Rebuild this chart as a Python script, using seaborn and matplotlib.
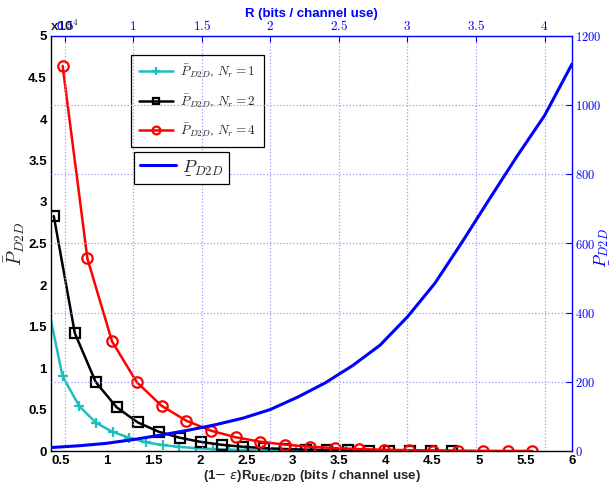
import matplotlib
matplotlib.use("Agg")
import matplotlib.pyplot as plt
import numpy as np
import seaborn as sns
from matplotlib.mathtext import MathTextParser
from matplotlib.ticker import FuncFormatter, MultipleLocator

sns.set_theme(style="white")
plt.rcParams['font.family'] = ['Liberation Sans', 'DejaVu Sans']
plt.rcParams['mathtext.fontset'] = 'cm'

# bottom axis: (1-eps) R_UEc/D2D, left axis: P_bar_D2D
x_nr1 = [0.345, 0.524, 0.704, 0.883, 1.062, 1.242, 1.421, 1.600, 1.780, 1.959,
         2.138, 2.318, 2.497, 2.676, 2.856, 3.035, 3.214, 3.394, 3.573, 3.752]
p_nr1 = [18700, 9000, 5400, 3400, 2300, 1600, 1050, 720, 500, 340,
         230, 160, 110, 70, 50, 30, 20, 13, 9, 6]

x_nr2 = [0.430, 0.656, 0.881, 1.107, 1.332, 1.558, 1.783, 2.009, 2.234, 2.460,
         2.685, 2.911, 3.136, 3.362, 3.587, 3.813, 4.038, 4.264, 4.489, 4.715]
p_nr2 = [28300, 14200, 8300, 5250, 3450, 2320, 1600, 1100, 750, 510,
         350, 240, 160, 110, 70, 50, 30, 20, 10, 7]

x_nr4 = [0.525, 0.791, 1.056, 1.322, 1.588, 1.854, 2.119, 2.385, 2.651, 2.916,
         3.182, 3.448, 3.713, 3.979, 4.245, 4.511, 4.776, 5.042, 5.308, 5.573]
p_nr4 = [46400, 23200, 13200, 8300, 5450, 3650, 2450, 1650, 1120, 770,
         520, 350, 230, 150, 100, 60, 40, 20, 10, 6]

# top axis: R, right axis: P_underline_D2D
r_vals = [0.4, 0.6, 0.8, 1.0, 1.2, 1.4, 1.6, 1.8, 2.0, 2.2,
          2.4, 2.6, 2.8, 3.0, 3.2, 3.4, 3.6, 3.8, 4.0, 4.2]
p_low = [10, 15, 22, 33, 46, 60, 76, 95, 120, 156,
         197, 247, 306, 388, 485, 605, 730, 853, 970, 1119]

BLUE = '#0000ff'
CYAN = '#1fbfbf'
GRID = '#9a9aff'


def pick_label(options):
    # mathtext has no \underline, try a few stand-ins
    parser = MathTextParser('path')
    for s in options:
        try:
            parser.parse(s)
            return s
        except Exception:
            pass
    return options[-1]


P_LOW = pick_label([r'$\underset{\_}{P}_{D2D}$', r'$\underset{-}{P}_{D2D}$', r'$P_{D2D}$'])

fig = plt.figure(figsize=(6.09, 4.86), dpi=100)
ax = fig.add_axes([51 / 609, 1 - 451 / 486, 521 / 609, 415 / 486])

sns.lineplot(x=x_nr1, y=p_nr1, ax=ax, color=CYAN, lw=1.8, marker='+',
             markersize=7, markeredgecolor=CYAN, markeredgewidth=1.6, sort=False,
             label=r'$\bar{P}_{D2D}$, $N_r = 1$')
sns.lineplot(x=x_nr2, y=p_nr2, ax=ax, color='black', lw=1.8, marker='s',
             markersize=6.5, markerfacecolor='none', markeredgecolor='black',
             markeredgewidth=1.6, sort=False,
             label=r'$\bar{P}_{D2D}$, $N_r = 2$')
sns.lineplot(x=x_nr4, y=p_nr4, ax=ax, color='red', lw=1.8, marker='o',
             markersize=7.5, markerfacecolor='none', markeredgecolor='red',
             markeredgewidth=1.6, sort=False,
             label=r'$\bar{P}_{D2D}$, $N_r = 4$')

ax.set_xlim(0.4, 6)
ax.set_ylim(0, 50000)
ax.xaxis.set_major_locator(MultipleLocator(0.5))
ax.yaxis.set_major_locator(MultipleLocator(5000))
ax.xaxis.set_major_formatter(FuncFormatter(lambda v, p: f"{v:g}"))
ax.yaxis.set_major_formatter(FuncFormatter(lambda v, p: f"{v / 1e4:g}"))
ax.tick_params(axis='both', direction='in', length=4, width=0.8, colors='black',
               labelsize=9.5, pad=3)
for lab in ax.get_xticklabels() + ax.get_yticklabels():
    lab.set_fontweight('bold')
ax.spines['top'].set_visible(False)
ax.spines['right'].set_visible(False)
for s in ['left', 'bottom']:
    ax.spines[s].set_color('black')
    ax.spines[s].set_linewidth(1.0)
ax.text(-0.002, 1.006, r'x10$^{4}$', transform=ax.transAxes, fontsize=9.5,
        fontweight='bold', ha='left', va='bottom')

xl = ax.set_xlabel(r'(1$-$ $\varepsilon$)R$_{\mathbf{UEc/D2D}}$ (bits / channel use)',
                   fontsize=9.5, fontweight='bold', labelpad=1)
xl.set_math_fontfamily('dejavusans')
ax.set_ylabel(r'$\bar{P}_{D2D}$', fontsize=14)
ax.yaxis.set_label_coords(-0.046, 0.5)

leg1 = ax.legend(loc='upper left', bbox_to_anchor=(0.1536, 0.954), borderaxespad=0,
                 fancybox=False, edgecolor='black', framealpha=1, fontsize=9.5,
                 handlelength=2.6, handletextpad=0.5, labelspacing=0.9,
                 borderpad=0.6, markerscale=0.75)
leg1.get_frame().set_linewidth(0.9)

# twin axes: top R, right P_underline
ax2 = fig.add_axes(ax.get_position(), frame_on=True)
ax2.patch.set_visible(False)
sns.lineplot(x=r_vals, y=p_low, ax=ax2, color=BLUE, lw=2.2, sort=False,
             label=P_LOW)
ax2.set_xlim(0.4, 4.2)
ax2.set_ylim(0, 1200)
ax2.xaxis.set_major_locator(MultipleLocator(0.5))
ax2.yaxis.set_major_locator(MultipleLocator(200))
ax2.xaxis.tick_top()
ax2.yaxis.tick_right()
ax2.xaxis.set_label_position('top')
ax2.yaxis.set_label_position('right')
ax2.xaxis.set_major_formatter(FuncFormatter(lambda v, p: f"${v:g}$"))
ax2.yaxis.set_major_formatter(FuncFormatter(lambda v, p: f"${v:g}$"))
ax2.tick_params(axis='both', direction='in', length=4, width=0.8, colors=BLUE)
ax2.tick_params(axis='x', pad=2, labelsize=9.5)
ax2.tick_params(axis='y', pad=2, labelsize=9)
for s in ['left', 'bottom']:
    ax2.spines[s].set_visible(False)
for s in ['top', 'right']:
    ax2.spines[s].set_color(BLUE)
    ax2.spines[s].set_linewidth(1.0)
ax2.grid(True, linestyle=':', color=GRID, linewidth=0.9)
ax2.set_xlabel('R (bits / channel use)', color=BLUE, fontsize=9.5,
               fontweight='bold', labelpad=1.5)
ax2.set_ylabel(P_LOW, color=BLUE, fontsize=12.5)
ax2.yaxis.set_label_coords(1.039, 0.49)

leg2 = ax2.legend(loc='upper left', bbox_to_anchor=(0.159, 0.721), borderaxespad=0,
                  fancybox=False, edgecolor='black', framealpha=1, fontsize=13,
                  handlelength=2.0, handletextpad=0.3, borderpad=0.35)
leg2.get_frame().set_linewidth(0.9)

fig.savefig('out.png', dpi=100)
